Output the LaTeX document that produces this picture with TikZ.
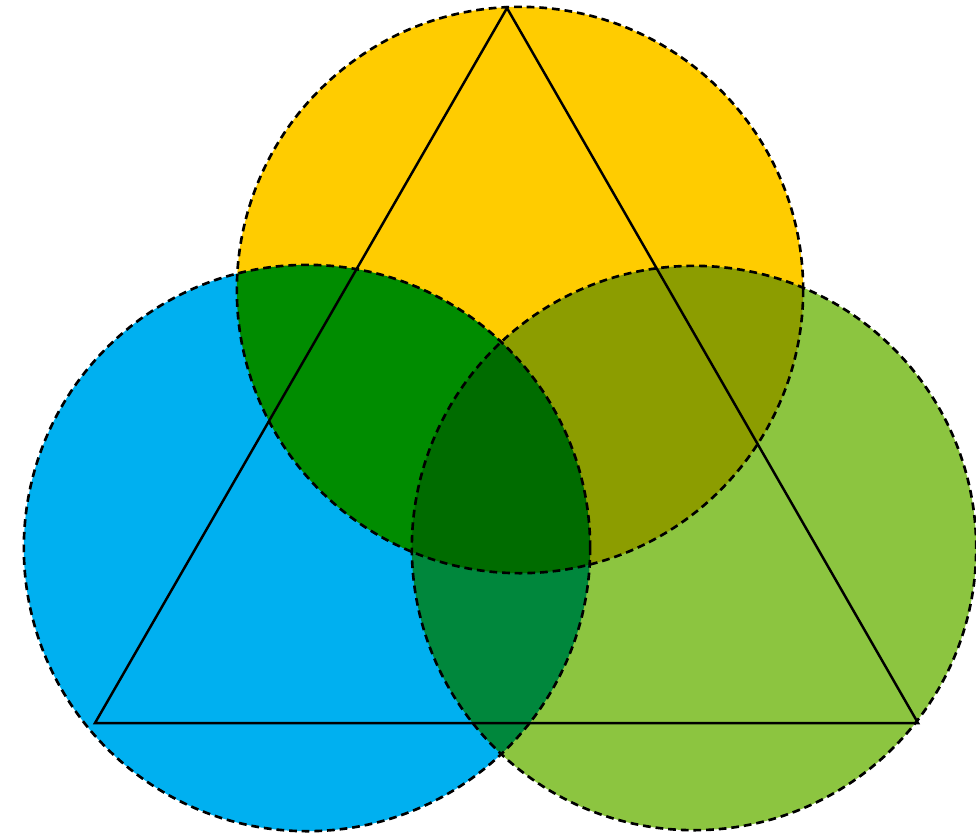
\documentclass[tikz,border=0pt]{standalone}
\usepackage{tikz}

\definecolor{sunyellow}{HTML}{FFCC00}
\definecolor{skyblue}{HTML}{00B0F0}
\definecolor{leafgreen}{HTML}{8CC540}

\begin{document}
\begin{tikzpicture}[x=0.01cm, y=-0.01cm]
            \tikzset{ring/.style = {draw, dash pattern=on 2.2pt off 1.4pt, line width=0.75pt}}
            \tikzset{edge/.style = {draw, line width=0.7pt, line join=miter}}

            \useasboundingbox (0, 0) rectangle (976, 832);

            \coordinate (top) at (520, 290);
            \coordinate (left) at (307, 548);
            \coordinate (right) at (694, 548);

            \coordinate (ta) at (507, 8);
            \coordinate (tb) at (95, 723);
            \coordinate (tc) at (918, 723);

            % fill the three discs, overlaps mix by multiply
            \begin{scope}[blend group=multiply]
                \fill[sunyellow] (top) circle[radius=2.83cm];
                \fill[skyblue] (left) circle[radius=2.83cm];
                \fill[leafgreen] (right) circle[radius=2.82cm];
            \end{scope}

            \path[ring] (top) circle[radius=2.83cm];
            \path[ring] (left) circle[radius=2.83cm];
            \path[ring] (right) circle[radius=2.82cm];

            % triangle on top
            \path[edge] (ta) -- (tb) -- (tc) -- cycle;

        \end{tikzpicture}
\end{document}
